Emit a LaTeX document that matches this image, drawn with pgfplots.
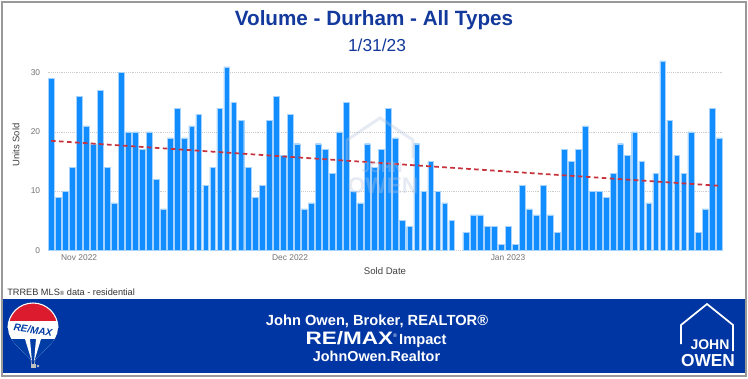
\documentclass[border=0pt]{standalone}
\usepackage{fontspec}
\setmainfont{Liberation Sans}
\usepackage{graphicx}
\usepackage{pgfplots}
\pgfplotsset{compat=1.18}
\definecolor{barblue}{HTML}{118DFF}
\definecolor{baredge}{HTML}{A6D4FF}
\definecolor{titleblue}{HTML}{12399B}
\definecolor{bandblue}{HTML}{0036A3}
\definecolor{trendred}{HTML}{C8323C}
\definecolor{remaxred}{HTML}{DC1C2E}
\definecolor{remaxblue}{HTML}{003DA5}
\definecolor{wmark}{HTML}{B8C4DC}
\begin{document}
\begin{tikzpicture}
\begin{scope}[x=0.75pt,y=-0.75pt]
\useasboundingbox (0,0) rectangle (748,378);
\fill[white] (0,0) rectangle (748,378);
\draw[black!40, line width=1.1pt] (2,2) rectangle (746,376);
\node[font=\fontsize{15.5}{18}\selectfont\bfseries, text=titleblue] at (374,20) {Volume - Durham - All Types};
\node[font=\fontsize{13}{15}\selectfont, text=titleblue] at (377,45) {1/31/23};
\node[rotate=90, font=\fontsize{7.1}{8}\selectfont, text=black!75] at (16,145) {Units Sold};
\node[font=\fontsize{7.2}{9}\selectfont, text=black!75] at (385,271) {Sold Date};
\node[anchor=west, font=\fontsize{6.9}{8}\selectfont, text=black!80, inner sep=0pt] at (7,292) {TRREB MLS{\fontsize{4.5}{5}\selectfont ®} data - residential};
\end{scope}
\begin{axis}[
  at={(35.625pt,-187.725pt)}, anchor=south west,
  scale only axis, width=506.25pt, height=144.3pt,
  xmin=0.5, xmax=96.5, ymin=0, ymax=32.5,
  axis line style={draw=none}, major tick length=0pt,
  ytick={0,10,20,30}, xtick={5,35,66}, xticklabels={Nov 2022,Dec 2022,Jan 2023},
  ymajorgrids, grid style={densely dotted, line width=0.6pt, black!20},
  tick label style={font=\fontsize{6.3}{7}\selectfont, text=black!55},
  yticklabel style={xshift=-2pt},
  /pgf/number format/assume math mode=true,
  clip=false,
]
\addplot[ybar, bar width=0.82, bar shift=0pt, fill=barblue, draw=baredge, line width=0.35pt] coordinates {
(1,29) (2,9) (3,10) (4,14) (5,26) (6,21) (7,18) (8,27) (9,14) (10,8)
(11,30) (12,20) (13,20) (14,17) (15,20) (16,12) (17,7) (18,19) (19,24) (20,19)
(21,21) (22,23) (23,11) (24,14) (25,24) (26,31) (27,25) (28,22) (29,14) (30,9)
(31,11) (32,22) (33,26) (34,16) (35,23) (36,18) (37,7) (38,8) (39,18) (40,17)
(41,13) (42,20) (43,25) (44,10) (45,8) (46,18) (47,14) (48,17) (49,24) (50,19)
(51,5) (52,4) (53,18) (54,10) (55,15) (56,10) (57,8) (58,5)
(60,3) (61,6) (62,6) (63,4) (64,4) (65,1) (66,4) (67,1) (68,11) (69,7) (70,6)
(71,11) (72,6) (73,3) (74,17) (75,15) (76,17) (77,21) (78,10) (79,10) (80,9)
(81,13) (82,18) (83,16) (84,20) (85,15) (86,8) (87,13) (88,32) (89,22) (90,16)
(91,13) (92,20) (93,3) (94,7) (95,24) (96,19)
};
\addplot[trendred, line width=1.3pt, dash pattern=on 3.5pt off 2.5pt] coordinates {(1,18.5) (96,10.9)};
\end{axis}
\begin{scope}[x=0.75pt,y=-0.75pt]
% watermark
\begin{scope}[opacity=0.35]
\draw[wmark, line width=2.2pt] (347,160) -- (347,140) -- (380,118) -- (413,140) -- (413,158);
\node[text=wmark, font=\fontsize{11}{12}\selectfont\bfseries] at (382,167) {JOHN};
\node[text=wmark, font=\fontsize{17}{18}\selectfont\bfseries] at (383,186) {OWEN};
\end{scope}
% band
\fill[bandblue] (3,298.5) rectangle (745,373);
\node[text=white, font=\fontsize{11}{13}\selectfont\bfseries] at (377,321) {John Owen, Broker, REALTOR®};
\node[text=white, inner sep=0pt] at (376,339) {\scalebox{1.25}[1]{\fontsize{13.5}{15}\selectfont\bfseries RE/MAX}\raisebox{5pt}{\fontsize{4}{4}\selectfont ®}\,{\fontsize{11}{13}\selectfont\bfseries Impact}};
\node[text=white, font=\fontsize{10.8}{13}\selectfont\bfseries] at (376.5,356) {JohnOwen.Realtor};
% RE/MAX balloon
\def\balloon{(8,328) arc[start angle=180, end angle=360, radius=25] .. controls (58,342) and (41,352) .. (35,360) -- (31,360) .. controls (25,352) and (8,342) .. (8,328) -- cycle}
\fill[white] \balloon;
\begin{scope}
\clip \balloon;
\fill[remaxred] (0,295) rectangle (70,321);
\fill[remaxblue] (0,339) rectangle (70,372);
\fill[white] (25,339) -- (30,339) -- (32,362) -- cycle;
\fill[white] (36,339) -- (41,339) -- (34,362) -- cycle;
\end{scope}
\draw[white, line width=0.8pt] (8,328) arc[start angle=180, end angle=360, radius=25];
\node[text=remaxblue, font=\fontsize{7.5}{8}\selectfont\bfseries\itshape, rotate=-8] at (33,330) {RE/MAX};
\draw[white!80!black, line width=0.4pt] (31,360) -- (31.5,364) (35,360) -- (34.5,364);
\fill[white!75!black] (30.5,364) rectangle (35.5,368);
\fill[white!75!black] (38,366) circle (1.3);
% John Owen logo
\draw[white, line width=1.3pt] (681,344) -- (681,325) -- (707,304) -- (733,325) -- (733,351);
\node[text=white, font=\fontsize{10.5}{11}\selectfont\bfseries, inner sep=0pt] at (710,345) {JOHN};
\node[text=white, font=\fontsize{13}{14}\selectfont\bfseries, inner sep=0pt] at (708,361) {OWEN};
\end{scope}
\end{tikzpicture}
\end{document}
